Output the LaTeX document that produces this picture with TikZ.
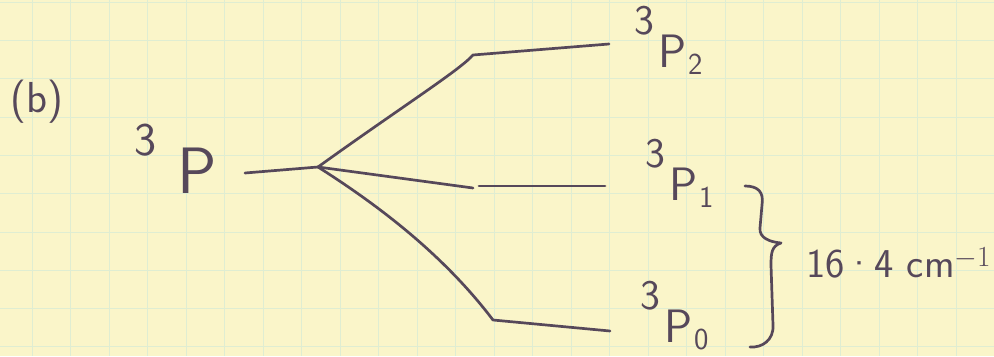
\documentclass[tikz,border=0pt]{standalone}
\usepackage{fontspec}
\definecolor{paper}{HTML}{FAF5C9}
\definecolor{gridline}{HTML}{DFEDD2}
\definecolor{pen}{HTML}{56485A}
% term symbol with a raised multiplicity and a lowered J
\newcommand{\termsym}[1]{{\fontsize{36}{36}\selectfont\raisebox{28pt}{3}}\hspace{4pt}P\hspace{1pt}{\fontsize{26}{26}\selectfont\raisebox{-6pt}{#1}}}
\begin{document}
\begin{tikzpicture}[x=0.03cm,y=-0.03cm,
  every node/.style={text=pen,inner sep=0pt,font=\sffamily\fontsize{40}{44}\selectfont},
  lvl/.style={draw=pen,line width=2.3pt,line cap=round,line join=round}]
\fill[paper] (0,0) rectangle (994,356);
\useasboundingbox (0,0) rectangle (994,356);
% squared paper
\foreach \gx in {0,...,25}
  \draw[gridline,line width=0.7pt] ({32+38.5*\gx},0) -- ({32+38.5*\gx},356);
\foreach \gy in {0,...,9}
  \draw[gridline,line width=0.7pt] (0,{2.2+38.3*\gy}) -- (994,{2.2+38.3*\gy});
% labels
\node[anchor=base west,font=\sffamily\fontsize{37}{42}\selectfont] (part) at (10,112) {(b)};
\node[anchor=base west,font=\sffamily\fontsize{56}{60}\selectfont] (term) at (134,193)
  {{\fontsize{40}{40}\selectfont\raisebox{32pt}{3}}\hspace{18pt}P};
\node[anchor=base west] (j2) at (634,67) {\termsym{2}};
\node[anchor=base west] (j1) at (645,200) {\termsym{1}};
\node[anchor=base west] (j0) at (640,342) {\termsym{0}};
\node[anchor=base west,font=\sffamily\fontsize{35}{40}\selectfont] (split) at (806,277)
  {16·4 cm$^{-1}$};
% levels
\coordinate (pl) at (245,173);
\coordinate (fork) at (318,167);
\coordinate (j2a) at (473,55);
\coordinate (j2b) at (609,44);
\coordinate (j1a) at (473,188);
\coordinate (j1b) at (479,186);
\coordinate (j1c) at (605,186);
\coordinate (j0a) at (493,320);
\coordinate (j0b) at (610,331);
\draw[lvl] (pl) -- (fork);
\draw[lvl] (fork) .. controls (400,108) and (460,70) .. (j2a) -- (j2b);
\draw[lvl] (fork) -- (j1a);
\draw[lvl] (j1b) -- (j1c);
\draw[lvl] (fork) .. controls (370,200) and (440,250) .. (j0a) -- (j0b);
% brace
\draw[lvl] (745,186) .. controls (758,186) and (764,192) .. (762,205) -- (760,228)
  .. controls (759,238) and (770,242) .. (781,243)
  .. controls (772,246) and (771,252) .. (771,265) -- (773,325)
  .. controls (774,340) and (762,348) .. (750,347);
\end{tikzpicture}
\end{document}
